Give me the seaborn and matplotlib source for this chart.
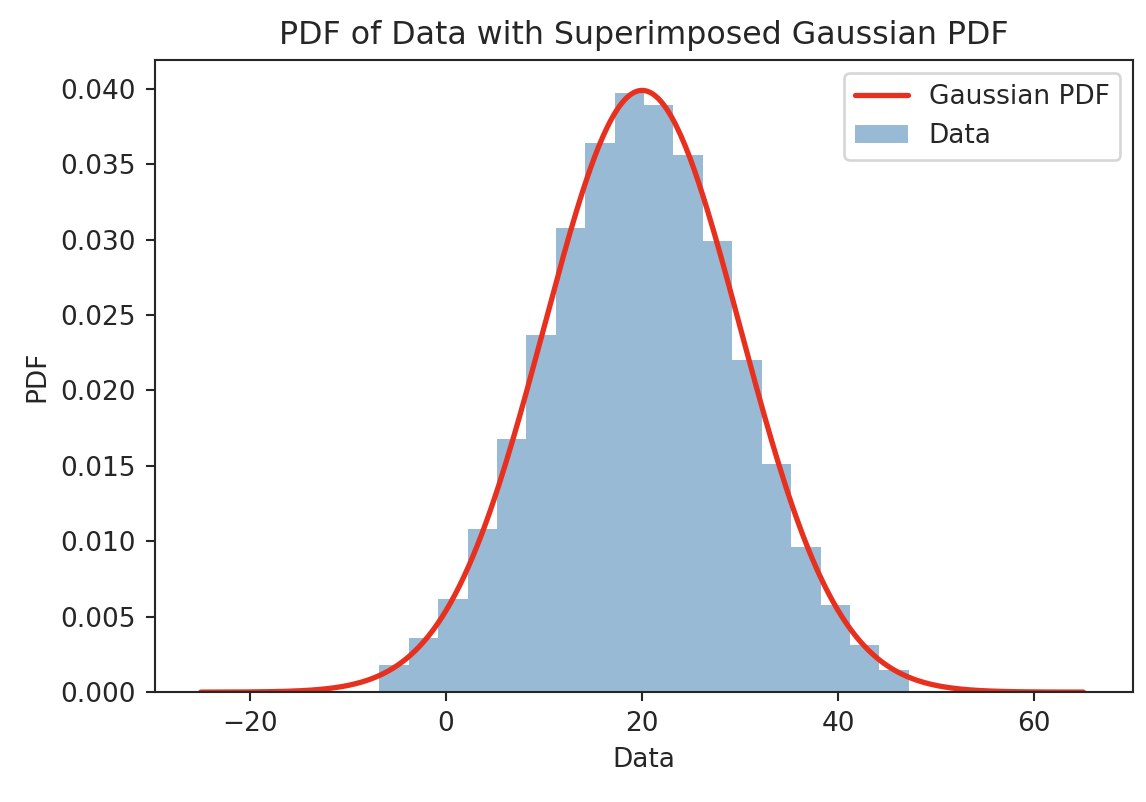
import numpy as np
import pandas as pd
import matplotlib
matplotlib.use("Agg")
import matplotlib.pyplot as plt
import seaborn as sns

bin_edges = [-6.8 + 3.0 * i for i in range(19)]
bin_density = [0.0018, 0.0036, 0.0062, 0.0108, 0.0168, 0.0237, 0.0308, 0.0364, 0.0397,
               0.0389, 0.0356, 0.0299, 0.0220, 0.0151, 0.0096, 0.0058, 0.0031, 0.0015]
mu, sigma = 20.0, 10.0
curve_x = np.linspace(-25, 65, 400)
curve_y = np.exp(-0.5 * ((curve_x - mu) / sigma) ** 2) / (sigma * np.sqrt(2 * np.pi))

sns.set_style("ticks")
plt.rcParams['font.family'] = ['DejaVu Sans']
fig = plt.figure(figsize=(1146/190, 802/190), dpi=190)
ax = fig.add_axes([0.135, 0.137, 0.854, 0.788])

centers = [(bin_edges[i] + bin_edges[i+1]) / 2 for i in range(len(bin_density))]
df = pd.DataFrame({"x": centers, "w": bin_density})
sns.histplot(data=df, x="x", weights="w", bins=bin_edges, stat="count", color="steelblue",
             alpha=0.55, edgecolor=None, linewidth=0, label="Data", ax=ax)
sns.lineplot(x=curve_x, y=curve_y, color="#e8301e", lw=2, label="Gaussian PDF", ax=ax)

ax.set_xlim(-29.7, 70.1)
ax.set_ylim(0, 0.0419)
ax.set_xticks([-20, 0, 20, 40, 60])
ax.set_yticks(np.arange(0, 0.0401, 0.005))
ax.yaxis.set_major_formatter(matplotlib.ticker.FormatStrFormatter('%.3f'))
ax.set_xlabel("Data")
ax.set_ylabel("PDF")
ax.set_title("PDF of Data with Superimposed Gaussian PDF", fontsize=12)
ax.legend(loc="upper right")
fig.savefig("out.png", dpi=190)
